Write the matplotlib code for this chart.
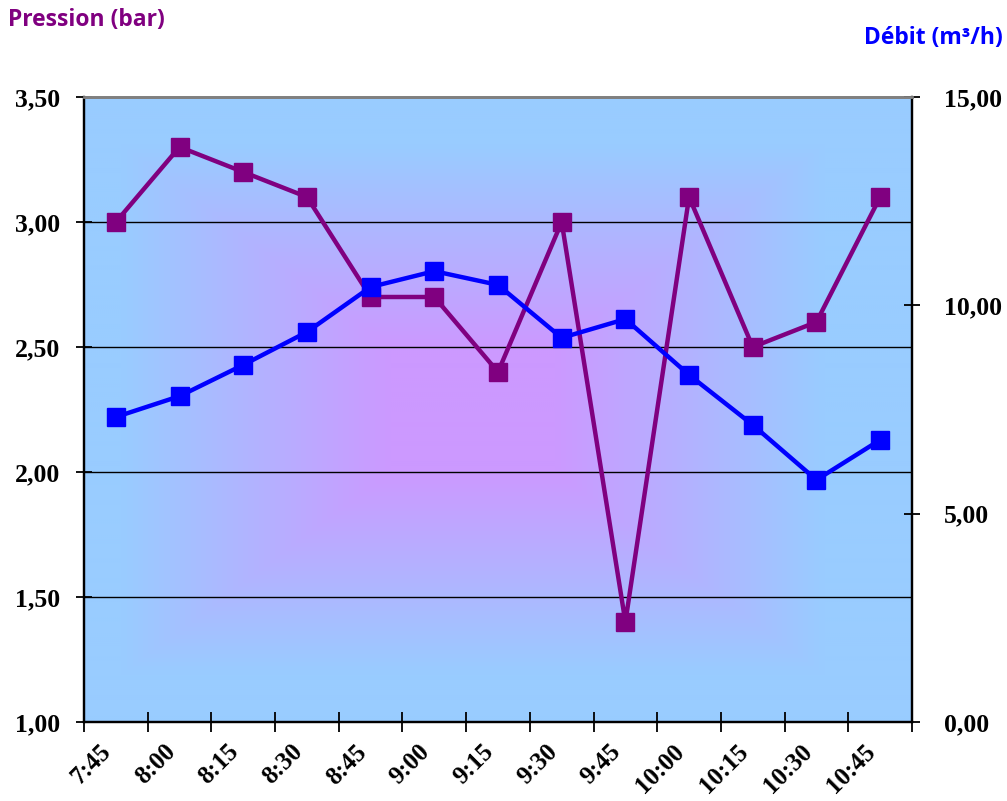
import numpy as np
import matplotlib
matplotlib.use("Agg")
import matplotlib.pyplot as plt
from matplotlib.ticker import FixedLocator, FuncFormatter
import matplotlib.transforms as mtransforms

categories = ["7:45", "8:00", "8:15", "8:30", "8:45", "9:00", "9:15",
              "9:30", "9:45", "10:00", "10:15", "10:30", "10:45"]
pression = [3.00, 3.30, 3.20, 3.10, 2.70, 2.70, 2.40, 3.00, 1.40, 3.10, 2.50, 2.60, 3.10]
debit = [7.32, 7.82, 8.57, 9.36, 10.44, 10.82, 10.49, 9.22, 9.67, 8.33, 7.13, 5.81, 6.77]

W, H = 1007, 801
fig = plt.figure(figsize=(W / 100, H / 100), dpi=100)
ax = fig.add_axes([84 / W, 1 - 722 / H, (912 - 84) / W, (722 - 97) / H])
ax2 = ax.twinx()

# background gradient (rectangular from center, with a flat center plateau)
nx, ny = 414, 312
u = np.linspace(-1, 1, nx) + 0.06
v = np.linspace(-1, 1, ny)
U, V = np.meshgrid(u, v)
m = np.maximum(np.abs(U), np.abs(V))
t = np.clip((m - 0.2) / 0.65, 0, 1)
center = np.array([204, 153, 255]) / 255
edge = np.array([153, 204, 255]) / 255
img = center[None, None, :] * (1 - t[..., None]) + edge[None, None, :] * t[..., None]
ax.imshow(img, extent=[0, 1, 0, 1], transform=ax.transAxes, aspect="auto", zorder=0,
          interpolation="bilinear")

x = np.arange(len(categories))
ax.set_xlim(-0.5, len(categories) - 0.5)
ax.set_ylim(1.0, 3.5)
ax2.set_ylim(0, 15)

# gridlines
for yv in [1.5, 2.0, 2.5, 3.0]:
    ax.axhline(yv, color="black", lw=1, zorder=1)

ax.plot(x, pression, color="#800080", lw=3.2, marker="s", ms=12.5, zorder=3, clip_on=False)
ax2.plot(x, debit, color="#0000FF", lw=3.2, marker="s", ms=12.5, zorder=3, clip_on=False)

# spines
for a in (ax, ax2):
    a.spines["top"].set_color("#808080")
    a.spines["top"].set_linewidth(2)
    for s in ("left", "right", "bottom"):
        a.spines[s].set_color("black")
        a.spines[s].set_linewidth(1.6)

tick_font = dict(family="Liberation Serif", weight="bold", size=18.5)

fmt = FuncFormatter(lambda val, p: f"{val:.2f}".replace(".", ","))
ax.set_yticks([1.0, 1.5, 2.0, 2.5, 3.0, 3.5])
ax.yaxis.set_major_formatter(fmt)
ax2.set_yticks([0, 5, 10, 15])
ax2.yaxis.set_major_formatter(fmt)

ax.tick_params(axis="y", direction="inout", length=12, width=1.3, pad=11)
ax2.tick_params(axis="y", direction="inout", length=12, width=1.3, pad=17)
fp = matplotlib.font_manager.FontProperties(**tick_font)
xfp = matplotlib.font_manager.FontProperties(family="Liberation Serif", weight="bold", size=18)
for lab in ax.get_yticklabels() + ax2.get_yticklabels():
    lab.set_fontproperties(fp)

ax.set_xticks(x)
ax.set_xticklabels(categories)
ax.xaxis.set_minor_locator(FixedLocator(np.arange(-0.5, len(categories), 1.0)))
ax.tick_params(axis="x", which="major", length=0, pad=19)
ax.tick_params(axis="x", which="minor", direction="inout", length=14, width=1.3)
offset = mtransforms.ScaledTranslation(-0.08, 0, fig.dpi_scale_trans)
for lab in ax.get_xticklabels():
    lab.set_fontproperties(xfp)
    lab.set_rotation(45)
    lab.set_ha("right")
    lab.set_va("center")
    lab.set_rotation_mode("anchor")
    lab.set_transform(lab.get_transform() + offset)

fig.text(8 / W, 1 - 20 / H, "Pression (bar)", color="#800080", fontsize=16.5,
         family="Open Sans", weight="bold", ha="left", va="center")
fig.text(1003 / W, 1 - 38 / H, "Débit (m³/h)", color="#0000FF", fontsize=16.5,
         family="Open Sans", weight="bold", ha="right", va="center")

fig.savefig("out.png", dpi=100)
